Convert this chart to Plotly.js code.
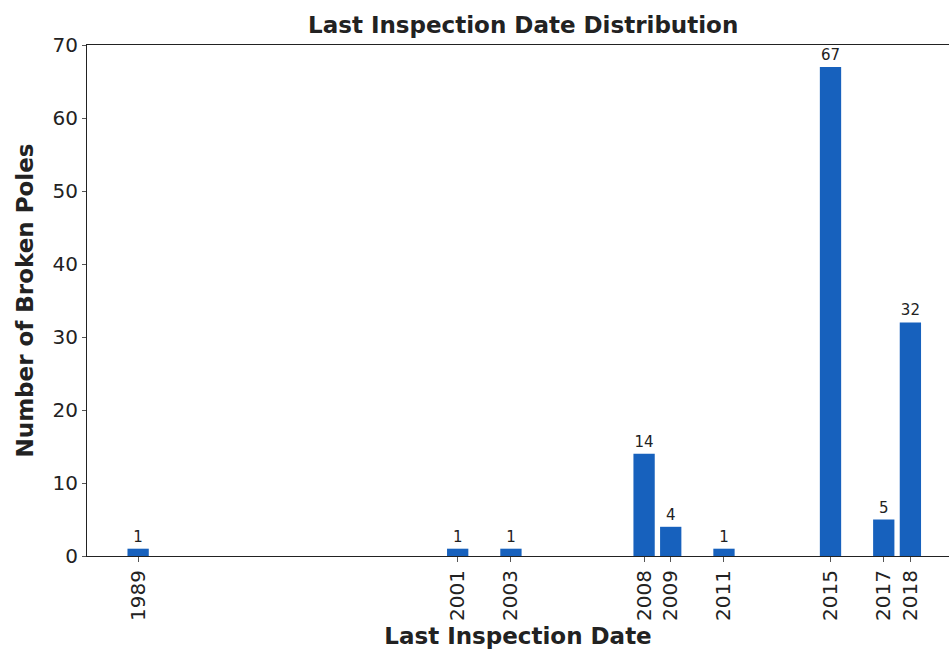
<!DOCTYPE html>
<html>
<head>
<meta charset="utf-8">
<script src="https://cdn.plot.ly/plotly-3.0.1.min.js"></script>
<style>html,body{margin:0;padding:0;background:#fff;}#chart{width:949px;height:655px;}</style>
</head>
<body>
<div id="chart"></div>
<script>
const years = [1989, 2001, 2003, 2008, 2009, 2011, 2015, 2017, 2018];
const counts = [1, 1, 1, 14, 4, 1, 67, 5, 32];
const tickLabels = ['1989', '2001', '2003', '2008', '2009', '2011', '2015', '2017', '2018'];

const trace = {
  type: 'bar',
  x: years,
  y: counts,
  width: 0.8,
  marker: {color: '#1761bd', line: {width: 0}},
  text: counts.map(String),
  textposition: 'outside',
  cliponaxis: false,
  textfont: {family: 'DejaVu Sans', size: 15, color: '#222'},
  hoverinfo: 'none'
};

const layout = {
  width: 949, height: 655,
  margin: {l: 87, r: 0, t: 45, b: 99},
  paper_bgcolor: '#fff', plot_bgcolor: '#fff',
  font: {family: 'DejaVu Sans', color: '#222'},
  showlegend: false,
  title: {text: 'Last Inspection Date Distribution', font: {family: 'DejaVu Sans', size: 23, weight: 'bold', color: '#222'},
          xref: 'paper', x: 0.506, xanchor: 'center', y: 0.962, yanchor: 'middle'},
  xaxis: {
    range: [1987.08, 2019.45],
    tickvals: years, ticktext: tickLabels, tickangle: -90,
    tickfont: {size: 20, family: 'DejaVu Sans'},
    ticks: 'outside', ticklen: 5, tickcolor: '#555',
    showline: true, linecolor: '#222', linewidth: 1, mirror: true,
    showgrid: false, zeroline: false,
    title: {text: 'Last Inspection Date', font: {size: 23, weight: 'bold', family: 'DejaVu Sans'}, standoff: 7}
  },
  yaxis: {
    range: [0, 70], dtick: 10,
    tickfont: {size: 20, family: 'DejaVu Sans'},
    ticks: 'outside', ticklen: 4, tickcolor: '#555',
    showline: true, linecolor: '#222', linewidth: 1,
    showgrid: true, gridcolor: 'rgba(255,255,255,0.35)', layer: 'above traces',
    zeroline: false,
    title: {text: 'Number of Broken Poles', font: {size: 23, weight: 'bold', family: 'DejaVu Sans'}, standoff: 12}
  }
};

Plotly.newPlot('chart', [trace], layout, {displayModeBar: false, staticPlot: true});
</script>
</body>
</html>
